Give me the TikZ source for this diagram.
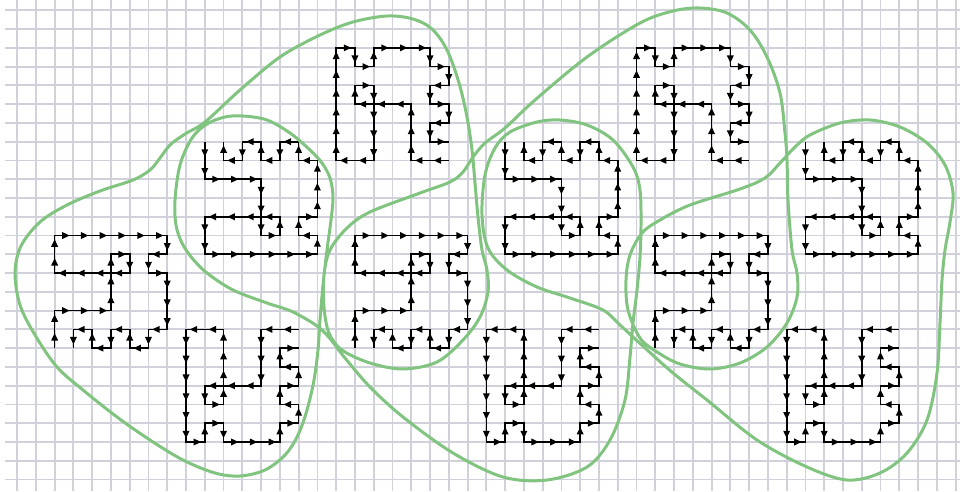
\documentclass[tikz,border=0pt]{standalone}
\usetikzlibrary{arrows.meta,decorations.markings}
\definecolor{gridc}{RGB}{208,209,219}
\definecolor{blobc}{RGB}{128,196,128}
\begin{document}
\begin{tikzpicture}[
  gridline/.style={draw=gridc, line width=1.05pt},
  walkline/.style={draw=black, line width=0.95pt, line join=miter,
    postaction={decorate},
    decoration={markings, mark=between positions 8.6pt and -1pt step 10.6812pt with {\arrow{Triangle[length=4.3pt,width=3.7pt]}}}},
  blob/.style={draw=blobc, line width=1.7pt},
]
\begin{scope}[x=0.02cm,y=-0.02cm]
\path[use as bounding box, fill=white] (0,0) rectangle (960,491);
% grid
\foreach \c in {0,...,50} \draw[gridline] ({17.1+18.77*\c},0) -- ({17.1+18.77*\c},491);
\foreach \r in {0,...,25} \draw[gridline] (5,{10.3+18.77*\r}) -- (960,{10.3+18.77*\r});
% walks
\foreach \k in {0,1,2} {
  % C
  \begin{scope}[shift={({17.1+18.77*(2+16*\k)},{10.3+18.77*12})}, x=0.3754cm, y=-0.3754cm]
    \draw[walkline] (0,6) -- (0,4) -- (3,4) -- (3,1) -- (4,1) -- (4,2) -- (0,2) -- (0,0) -- (6,0) -- (6,1) -- (5,1) -- (5,2) -- (6,2) -- (6,5) -- (5,5) -- (5,6) -- (4,6) -- (4,5) -- (3,5) -- (3,6) -- (2,6) -- (2,5) -- (1,5) -- (1,6);
  \end{scope}
  % B
  \begin{scope}[shift={({17.1+18.77*(10+16*\k)},{10.3+18.77*7})}, x=0.3754cm, y=-0.3754cm]
    \draw[walkline] (0,0) -- (0,2) -- (3,2) -- (3,5) -- (4,5) -- (4,4) -- (0,4) -- (0,6) -- (6,6) -- (6,5) -- (5,5) -- (5,4) -- (6,4) -- (6,1) -- (5,1) -- (5,0) -- (4,0) -- (4,1) -- (3,1) -- (3,0) -- (2,0) -- (2,1) -- (1,1) -- (1,0);
  \end{scope}
  % D
  \begin{scope}[shift={({17.1+18.77*(9+16*\k)},{10.3+18.77*17})}, x=0.3754cm, y=-0.3754cm]
    \draw[walkline] (6,0) -- (4,0) -- (4,3) -- (1,3) -- (1,4) -- (2,4) -- (2,0) -- (0,0) -- (0,6) -- (1,6) -- (1,5) -- (2,5) -- (2,6) -- (5,6) -- (5,5) -- (6,5) -- (6,4) -- (5,4) -- (5,3) -- (6,3) -- (6,2) -- (5,2) -- (5,1) -- (6,1);
  \end{scope}
}
\foreach \k in {0,1} {
  % A
  \begin{scope}[shift={({17.1+18.77*(17+16*\k)},{10.3+18.77*2})}, x=0.3754cm, y=-0.3754cm]
    \draw[walkline] (6,6) -- (4,6) -- (4,3) -- (1,3) -- (1,2) -- (2,2) -- (2,6) -- (0,6) -- (0,0) -- (1,0) -- (1,1) -- (2,1) -- (2,0) -- (5,0) -- (5,1) -- (6,1) -- (6,2) -- (5,2) -- (5,3) -- (6,3) -- (6,4) -- (5,4) -- (5,5) -- (6,5);
  \end{scope}
}
% green outline
\draw[blob] plot[smooth cycle, tension=0.55] coordinates {
(243,116) (267,120) (290,133) (310,150) (322,163) (330,178) (333,197) (331,220) (327,250) (323,285) (320,320) (318,350) (314,380) (307,410) (298,435) (285,455) (265,470) (240,476) (215,473) (183,460) (150,440) (117,417) (83,390) (57,367) (35,335) (20,305) (15,273) (21,246) (40,222) (67,205) (100,191) (133,180) (150,170) (160,158) (170,145) (185,134) (205,122) (240,90) (280,57) (320,35) (353,22) (387,16) (413,19) (432,29) (447,50) (459,83) (467,117) (472,150) (475,183) (478,217) (482,250) (487,270) (488,292) (480,317) (463,340) (437,362) (403,369) (370,363) (342,350) (329,333) (324,307) (324,275) (330,250) (347,228) (370,212) (420,193) (450,182) (463,172) (473,157) (485,143) (505,128) (535,100) (587,57) (640,23) (673,11) (700,8) (727,13) (750,30) (767,57) (780,93) (785,133) (787,160) (788,200) (792,250) (797,273) (797,297) (787,323) (767,347) (740,363) (710,369) (680,364) (657,352) (640,338) (628,310) (626,280) (630,255) (642,233) (660,220) (690,205) (740,189) (765,178) (780,163) (795,147) (810,135) (840,123) (870,120) (900,127) (927,143) (945,165) (953,193) (950,222) (945,250) (942,280) (940,323) (937,373) (927,420) (907,453) (880,473) (847,480) (807,467) (757,440) (707,400) (673,373) (645,348) (620,325) (603,310) (570,298) (537,287) (507,270) (488,248) (482,215) (485,175) (495,148) (510,132) (537,122) (560,120) (587,125) (613,140) (633,167) (640,190) (641,225) (640,257) (637,290) (633,323) (630,357) (625,400) (610,440) (587,467) (547,480) (503,477) (453,453) (403,417) (370,387) (345,358) (322,330) (293,312) (267,303) (233,290) (207,273) (192,258) (182,243) (176,225) (175,200) (180,165) (192,138) (207,124) (225,117)
};
\end{scope}
\end{tikzpicture}
\end{document}
